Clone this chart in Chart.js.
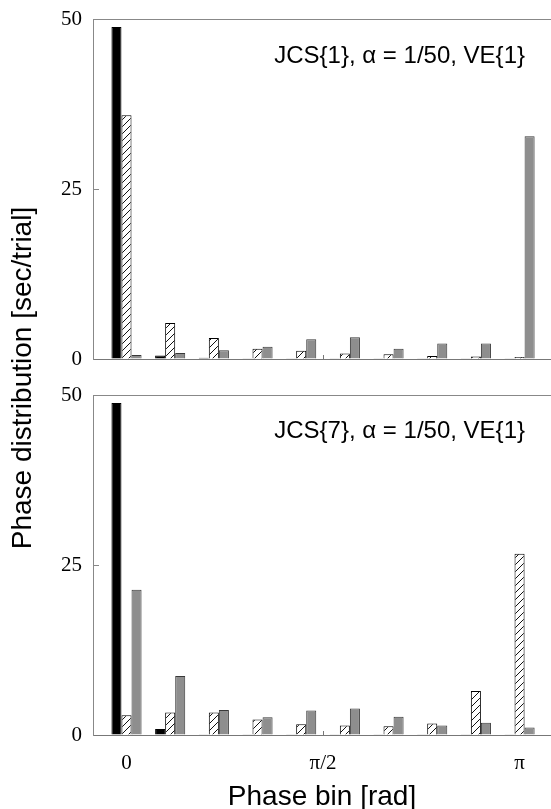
<!DOCTYPE html>
<html><head><meta charset="utf-8">
<script src="https://cdn.jsdelivr.net/npm/chart.js@4.4.0/dist/chart.umd.min.js"></script>
<style>
html,body{margin:0;padding:0;background:#fff;width:551px;height:809px;overflow:hidden;}
#wrap{position:relative;width:551px;height:809px;overflow:hidden;}
canvas{position:absolute;left:0;}
.txt{position:absolute;font-family:"Liberation Sans",Arial,sans-serif;color:#000;white-space:nowrap;}
.ann{font-size:24px;line-height:24px;}
</style></head><body>
<div id="wrap">
<canvas id="c1" width="551" height="399" style="top:-10px;width:551px;height:399px"></canvas>
<canvas id="c2" width="551" height="443" style="top:366px;width:551px;height:443px"></canvas>
<div class="txt ann" style="right:26px;top:43px">JCS{1}, α = 1/50, VE{1}</div>
<div class="txt ann" style="right:26px;top:418px">JCS{7}, α = 1/50, VE{1}</div>
<div class="txt" style="font-size:28px;line-height:32px;width:420px;text-align:center;left:-188px;top:362px;transform:rotate(-90deg);transform-origin:50% 50%;">Phase distribution [sec/trial]</div>
<div class="txt" style="font-size:28px;line-height:32px;width:300px;text-align:center;left:172px;top:780px;">Phase bin [rad]</div>
</div>
<script>
const bins = [0, 1, 2, 3, 4, 5, 6, 7, 8, 9];
const tickValues = [0, 4.5, 9];
const tickLabels = ['0', 'π/2', 'π'];
const yTickStep = 25;
const yMax = 50;

const topBlack = [48.9, 0.5, 0.2, 0.1, 0.1, 0.1, 0.1, 0.1, 0.1, 0.1];
const topHatch = [35.9, 5.3, 3.1, 1.5, 1.2, 0.8, 0.7, 0.45, 0.35, 0.3];
const topGray  = [0.6, 0.9, 1.3, 1.8, 2.9, 3.2, 1.5, 2.3, 2.3, 32.8];

const botBlack = [48.9, 0.9, 0.1, 0.1, 0.1, 0.1, 0.1, 0.1, 0.1, 0.1];
const botHatch = [2.9, 3.3, 3.3, 2.3, 1.6, 1.4, 1.3, 1.7, 6.5, 26.7];
const botGray  = [21.4, 8.7, 3.7, 2.6, 3.6, 3.9, 2.7, 1.4, 1.8, 1.1];

function hatchPattern(){
  const s = 7;
  const c = document.createElement('canvas'); c.width = s; c.height = s;
  const g = c.getContext('2d');
  g.fillStyle = '#fff'; g.fillRect(0,0,s,s);
  g.strokeStyle = '#111'; g.lineWidth = 1;
  g.beginPath();
  g.moveTo(0, s); g.lineTo(s, 0);
  g.moveTo(-1, 1); g.lineTo(1, -1);
  g.moveTo(s-1, s+1); g.lineTo(s+1, s-1);
  g.stroke();
  return g.createPattern(c, 'repeat');
}
const HATCH = hatchPattern();
const serif = '"Liberation Serif","Times New Roman",serif';

function pts(vals){ return bins.map((b,i)=>({x:b, y:vals[i]})); }

function makeChart(id, black, hatch, gray, showX, xHeight){
  return new Chart(document.getElementById(id), {
    type: 'bar',
    data: {
      datasets: [
        {data: pts(black), backgroundColor:'#000', borderColor:'#000', borderWidth:1},
        {data: pts(hatch), backgroundColor:HATCH, borderColor:'#000', borderWidth:1},
        {data: pts(gray), backgroundColor:'#8e8e8e', borderColor:'#383838', borderWidth:1}
      ]
    },
    options: {
      responsive:false, animation:false, devicePixelRatio:1,
      layout:{padding:0},
      plugins:{legend:{display:false}, tooltip:{enabled:false}, title:{display:false}},
      datasets:{bar:{categoryPercentage:0.69, barPercentage:1.0, grouped:true}},
      scales:{
        x:{
          type:'linear', min:-0.767, max:9.72, position:'bottom', offset:false,
          afterBuildTicks: s => { s.ticks = tickValues.map(v=>({value:v})); },
          afterFit: s => { s.height = xHeight; },
          ticks:{display:showX, autoSkip:false, maxRotation:0, padding:20, color:'#000',
                 font:{family:serif, size:21},
                 callback: v => { const k = tickValues.indexOf(v); return k>=0 ? tickLabels[k] : ''; }},
          grid:{offset:false, drawOnChartArea:false, drawTicks:true, tickLength:-4,
                color: ctx => (ctx.tick && ctx.tick.value === 4.5) ? '#777' : 'rgba(0,0,0,0)'},
          border:{display:true, color:'#777', width:1}
        },
        x2:{
          type:'linear', position:'top', display:true, offset:false,
          afterFit: s => { s.height = 0; },
          ticks:{display:false}, grid:{display:false, drawTicks:false},
          border:{display:true, color:'#888', width:1}
        },
        y:{
          min:0, max:yMax,
          afterFit: s => { s.width = 93; },
          ticks:{stepSize:yTickStep, padding:17, color:'#000', font:{family:serif, size:21}},
          grid:{drawOnChartArea:false, drawTicks:true, tickLength:-6, color:'#888'},
          border:{display:true, color:'#888', width:1}
        }
      }
    }
  });
}

const c1 = makeChart('c1', topBlack, topHatch, topGray, false, 30);
const c2 = makeChart('c2', botBlack, botHatch, botGray, true, 74);
</script>
</body></html>
